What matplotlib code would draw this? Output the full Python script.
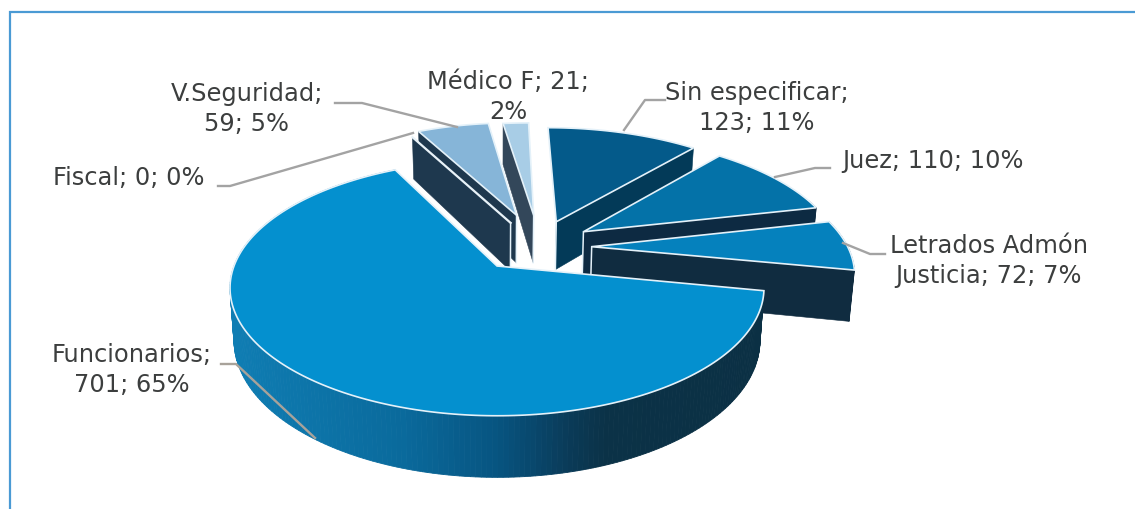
import numpy as np
import matplotlib
matplotlib.use("Agg")
import matplotlib.pyplot as plt
from matplotlib.colors import LinearSegmentedColormap

# --- data ---
categories = ["Sin especificar", "Juez", "Letrados Admón\nJusticia", "Funcionarios",
              "Fiscal", "V.Seguridad", "Médico F"]
values = [123, 110, 72, 701, 0, 59, 21]

# --- styling ---
explode = [(0.24, -0.38), (0.345, -0.29), (0.37, -0.16), (0, 0),
           (0.055, -0.37), (0.08, -0.44), (0.15, -0.44)]
top_colors = ["#045a8a", "#0472a8", "#0581bd", "#0490cf", "#ffffff", "#86b5d8", "#a8cde6"]
wall_colors = ["#033a58", "#0d2a42", "#102c40", "#0b3044", "#1e384e", "#1e384e", "#33475a"]
draw_order = [0, 6, 5, 4, 1, 2, 3]
visible_cuts = {0: (-1,), 1: (-1,), 2: (-1,), 3: (), 4: (0,), 5: (0,), 6: (0,)}
label_pos = {0: (757, 108, "center"), 1: (933, 161, "center"), 2: (989, 261, "center"),
             3: (132, 370, "center"), 4: (129, 178, "center"), 5: (247, 109, "center"),
             6: (508, 97, "center")}
label_breaks = {0: "{n};\n{v}; {p}%", 1: "{n}; {v}; {p}%", 2: "{n}; {v}; {p}%",
                3: "{n};\n{v}; {p}%", 4: "{n}; {v}; {p}%", 5: "{n};\n{v}; {p}%",
                6: "{n}; {v};\n{p}%"}
leaders = {0: [(665, 100), (645, 100), (624, 130)],
           1: [(830, 168), (815, 168), (775, 177)],
           2: [(885, 254), (870, 254), (843, 243)],
           5: [(335, 103), (362, 103), (457, 127)],
           4: [(218, 186), (230, 186), (413, 133)],
           3: [(221, 364), (236, 364), (315, 438)]}

CX, CY, B, A, K, DEPTH = 497, 266, 263, 124, 0.172, 51
EDGE = "#e4f1f9"


def project(u, v, z=0.0):
    d = 1 - K * v
    x = CX + B * u / d
    y = CY + A * v / d
    if z:
        x = CX + (x - CX) * (1 - 0.015 * z)
        y = y + DEPTH * z / d
    return x, y


fig = plt.figure(figsize=(11.35, 5.09), dpi=100, facecolor="white")
ax = fig.add_axes([0, 0, 1, 1])
ax.set_xlim(0, 1135)
ax.set_ylim(509, 0)
ax.axis("off")

# frame
ax.plot([10, 10, 1135], [509, 12, 12], color="#4a9ad4", lw=1.6, solid_joinstyle="miter")

rim_cmap = LinearSegmentedColormap.from_list(
    "rim", [(0.0, "#0f7db3"), (0.32, "#0a6a9c"), (0.5, "#075480"),
            (0.62, "#0a3d5c"), (0.7, "#0b3247"), (1.0, "#0b3044")])

total = sum(values)
starts = np.cumsum([0] + values[:-1]) / total * 2 * np.pi
spans = np.array(values) / total * 2 * np.pi

for i in draw_order:
    du, dv = explode[i]
    t = np.linspace(starts[i], starts[i] + spans[i], max(2, int(np.degrees(spans[i])) + 2))
    u = du + np.sin(t)
    v = dv - np.cos(t)
    x0, y0 = project(u, v)
    x1, y1 = project(u, v, 1.0)
    ax0, ay0 = project(du, dv)
    ax1, ay1 = project(du, dv, 1.0)
    z = 2 + draw_order.index(i)
    # outer rim: only the part that faces the viewer
    for j in range(len(t) - 1):
        if i == 3:
            c = rim_cmap(np.clip(((x0[j] + x0[j + 1]) / 2 - 231) / 534, 0, 1))
        elif np.cos(t[j]) < 0.3:
            c = wall_colors[i]
        else:
            continue
        ax.fill([x0[j], x0[j + 1], x1[j + 1], x1[j]], [y0[j], y0[j + 1], y1[j + 1], y1[j]],
                facecolor=c, edgecolor=c, lw=0.6, zorder=z)
    # cut walls
    for k in visible_cuts[i]:
        ax.fill([ax0, x0[k], x1[k], ax1], [ay0, y0[k], y1[k], ay1],
                facecolor=wall_colors[i], edgecolor=wall_colors[i], lw=0.4, zorder=z)
    if i != 3:
        ax.plot([ax0, ax1], [ay0, ay1], color=EDGE, lw=1.1, zorder=z + 0.2)
    # zero-size slices only show their wall, with a pale edge on the cut
    if values[i] == 0:
        ax.plot([ax0, x0[0]], [ay0, y0[0]], color="#e8f2f8", lw=1.6, zorder=z + 0.5)
    else:
        ax.fill(np.r_[ax0, x0], np.r_[ay0, y0], facecolor=top_colors[i],
                edgecolor=EDGE, lw=1.2, joinstyle="miter", zorder=z + 0.5)

# leaders
for i, pts in leaders.items():
    xs, ys = zip(*pts)
    ax.plot(xs, ys, color="#a3a3a3" if i != 3 else "#a8a29a", lw=1.7, zorder=20,
            solid_joinstyle="round")

# labels
for i, (lx, ly, ha) in label_pos.items():
    s = label_breaks[i].format(n=categories[i], v=values[i], p=round(values[i] / total * 100))
    ax.text(lx, ly, s, ha=ha, va="center", fontsize=17.4, color="#3c3e3e",
            family="DejaVu Sans", linespacing=1.32, zorder=25)

fig.savefig("out.png", dpi=100)
